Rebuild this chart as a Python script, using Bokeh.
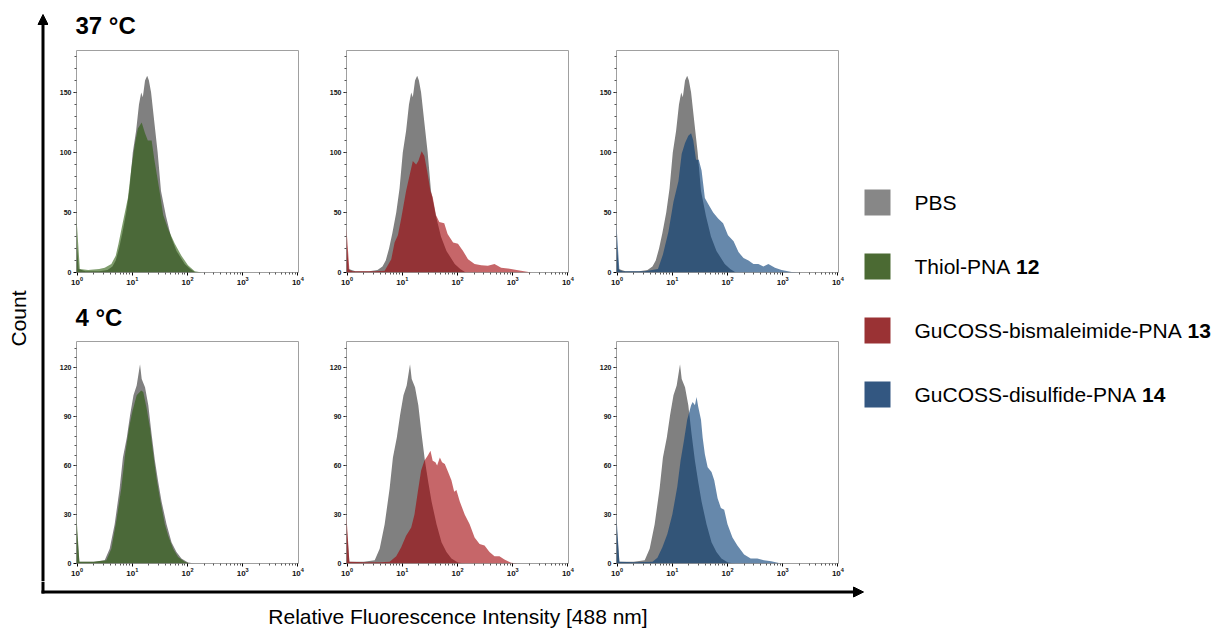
import math
from bokeh.plotting import figure
from bokeh.layouts import row, column
from bokeh.models import Range1d, FixedTicker, Arrow, NormalHead
from bokeh.core.properties import value
from bokeh.embed import file_html
from bokeh.resources import INLINE

FONT = "Liberation Sans"

# ---------------- data (fluorescence intensity, cell count) ----------------
pbs37_x = [0.97, 1.07, 1.41, 2.51, 3.55, 4.37, 5.01, 5.75, 6.61, 7.76, 8.91, 10.2, 11.7, 13.2, 14.5,
           15.5, 17.0, 18.6, 20.0, 21.9, 25.1, 28.8, 33.1, 40.7, 50.1, 63.1, 89.1, 112, 141]
pbs37_y = [30, 3, 1, 1, 2, 5, 10, 20, 33, 50, 70, 100, 118, 140, 150,
           146, 160, 164, 160, 150, 125, 100, 68, 47, 30, 18, 7, 3, 0]

thiol37_x = [0.97, 1.12, 1.58, 2.51, 3.16, 4.17, 5.01, 5.62, 6.61, 8.32, 9.55, 11.2, 12.6, 14.8, 17.0,
             19.1, 22.4, 25.1, 31.6, 36.3, 44.7, 58.9, 77.6, 102, 135, 182]
thiol37_y = [47, 3, 2, 3, 4, 7, 14, 24, 40, 62, 86, 108, 120, 125, 116,
             110, 110, 94, 66, 48, 36, 24, 14, 6, 1, 0]

bism37_x = [0.97, 1.1, 1.26, 3.16, 4.79, 6.31, 7.24, 8.32, 9.55, 11.7, 15.5, 17.8, 19.5, 22.4, 25.1,
            28.8, 32.4, 35.5, 40.7, 46.8, 57.5, 66.1, 83.2, 102, 126, 155, 204, 269, 355, 468,
            617, 933, 1410, 2190]
bism37_y = [38, 2, 1, 1, 1.5, 11, 25, 31, 45, 68, 93, 90, 93, 101, 97,
            82, 68, 63, 48, 42, 41, 32, 25, 24, 18, 11, 7, 6, 5.6, 7,
            4, 3, 1.4, 0]

disulf37_x = [0.97, 1.1, 1.26, 3.16, 5.50, 6.76, 8.51, 10.5, 12.9, 14.8, 17.0, 19.5, 21.9, 24.0, 26.9,
              30.2, 33.9, 38.9, 44.7, 55.0, 67.6, 83.2, 102, 129, 158, 195, 240, 295, 363, 447,
              550, 724, 955, 1450, 2090]
disulf37_y = [41, 2, 1, 1, 3, 15, 34, 59, 76, 99, 108, 114, 116, 110, 94,
              94, 85, 62, 57, 50, 45, 41, 31, 26, 17, 12, 10, 7, 7, 5,
              7, 4, 2, 0.5, 0]

pbs4_x = [0.97, 1.1, 2.0, 3.16, 3.89, 4.79, 5.89, 6.76, 7.94, 9.12, 10.5, 12.0, 13.2, 13.8, 14.8,
          17.0, 19.5, 22.4, 25.7, 29.5, 33.9, 41.7, 51.3, 63.1, 77.6, 102, 138]
pbs4_y = [25, 1, 1, 2, 9, 24, 46, 65, 77, 91, 103, 109, 118, 122, 113,
          108, 97, 79, 63, 50, 38, 24, 13, 7, 3, 0.6, 0]

thiol4_x = [0.97, 1.1, 2.0, 3.39, 4.17, 5.13, 6.31, 7.41, 8.71, 10.0, 12.0, 14.5, 15.8, 18.2, 20.9,
            24.0, 27.5, 31.6, 38.9, 44.7, 55.0, 67.6, 89.1, 110]
thiol4_y = [30, 1, 1, 2, 9, 26, 46, 67, 83, 93, 103, 106, 105, 95, 83,
            67, 52, 40, 24, 17, 9, 4, 1, 0]

bism4_x = [0.97, 1.1, 2.0, 3.98, 5.89, 7.76, 9.55, 11.7, 14.5, 16.6, 19.1, 21.9, 25.1, 28.8, 32.4,
           35.5, 39.8, 42.7, 47.9, 52.5, 58.9, 67.6, 77.6, 87.1, 95.5, 110, 135, 166, 204, 251,
           309, 380, 468, 575, 708, 933, 1230]
bism4_y = [30, 1, 0.8, 0.8, 1, 4.5, 10, 17, 22, 30, 44, 57, 63, 66, 69,
           63, 62, 60, 65, 62, 61, 56, 51, 44, 45, 38, 30, 24, 16, 12,
           11, 7, 4.5, 4.5, 2.5, 0.4, 0]

disulf4_x = [0.97, 1.1, 2.0, 4.37, 5.37, 6.61, 8.13, 10.0, 12.3, 14.1, 16.2, 18.6, 21.9, 23.4, 25.7,
             27.5, 29.5, 33.1, 35.5, 38.9, 43.7, 51.3, 57.5, 66.1, 75.9, 87.1, 100, 123, 151, 200,
             263, 347, 457, 617, 933]
disulf4_y = [30, 1, 0.8, 1, 3.5, 10, 18, 30, 47, 63, 75, 88, 97, 99, 97,
             102, 96, 88, 77, 67, 59, 56, 51, 40, 34, 33, 24, 16, 11, 5.5,
             3, 3, 2, 1.4, 0]

row_titles = ["37 °C", "4 °C"]
row_ymax = [185, 136]
row_major_ticks = [[0, 50, 100, 150], [0, 30, 60, 90, 120]]
row_minor_ticks = [list(range(10, 190, 10)), list(range(6, 138, 6))]
x_major_ticks = [1, 10, 100, 1000, 10000]

legend_names = ["PBS", "Thiol-PNA", "GuCOSS-bismaleimide-PNA", "GuCOSS-disulfide-PNA"]
legend_numbers = ["", "12", "13", "14"]
legend_colors = ["#878787", "#4b6a33", "#9a3234", "#335781"]

x_label = "Relative Fluorescence Intensity [488 nm]"
y_label = "Count"

# ---------------- styles / layout ----------------
GRAY = "#808080"
SERIES_COLORS = {"thiol": "#285a0a", "bism": "#a00005", "disulf": "#003973"}
ALPHA = 0.6

PAGE_W = 1211
LEFT_W = 48
PANEL_W = 270
TITLE_H = [40, 45]       # title strips above each panel row
ROW_H = [250, 246]       # panel figure heights
ROW_TOP = [10, 6]        # border above each frame
TITLE_Y = [24.5, 27]     # cap centre of the row title inside its strip
TOP_H = sum(TITLE_H) + sum(ROW_H)   # 581
BOTTOM_H = 629 - TOP_H              # 48


def style_axis(ax, size):
    ax.axis_line_color = None
    ax.major_tick_line_color = "black"
    ax.major_tick_out = 3
    ax.major_tick_in = 0
    ax.minor_tick_line_color = "#555555"
    ax.minor_tick_out = 2
    ax.minor_tick_in = 0
    ax.major_label_text_font = FONT
    ax.major_label_text_font_size = size
    ax.major_label_text_font_style = "bold"
    ax.major_label_text_color = "#111111"
    ax.major_label_standoff = 2


def panel(r, ctrl_x, ctrl_y, sx, sy, color):
    p = figure(width=PANEL_W, height=ROW_H[r], x_axis_type="log",
               x_range=Range1d(0.975, 10250), y_range=Range1d(0, row_ymax[r]),
               output_backend="svg", toolbar_location=None,
               min_border_left=28, min_border_right=20,
               min_border_top=ROW_TOP[r], min_border_bottom=18)
    p.xgrid.visible = False
    p.ygrid.visible = False
    p.outline_line_color = "#a0a0a0"
    p.outline_line_width = 1
    p.background_fill_color = "white"
    p.border_fill_color = "white"
    p.varea(x=ctrl_x, y1=0, y2=ctrl_y, fill_color=GRAY, fill_alpha=1.0)
    p.varea(x=sx, y1=0, y2=sy, fill_color=color, fill_alpha=ALPHA)
    minors = [m * 10 ** k for k in range(4) for m in range(2, 10)]
    p.xaxis.ticker = FixedTicker(ticks=x_major_ticks, minor_ticks=minors)
    p.yaxis.ticker = FixedTicker(ticks=row_major_ticks[r], minor_ticks=row_minor_ticks[r])
    style_axis(p.xaxis[0], "8px")
    style_axis(p.yaxis[0], "7px")
    p.xaxis[0].major_label_standoff = 1
    return p


def blank(w, h):
    f = figure(width=w, height=h, x_range=Range1d(0, w), y_range=Range1d(h, 0),
               x_axis_location=None, y_axis_location=None, min_border=0,
               output_backend="svg", toolbar_location=None)
    f.xgrid.visible = False
    f.ygrid.visible = False
    f.outline_line_color = None
    f.background_fill_color = "white"
    f.border_fill_color = "white"
    return f


def title_strip(r):
    t = blank(3 * PANEL_W, TITLE_H[r])
    t.text(x=[27], y=[TITLE_Y[r]], text=[row_titles[r]], text_font=value(FONT),
           text_font_size=value("24px"), text_font_style="bold",
           text_align="left", text_baseline="middle", text_color="black")
    return t


p11 = panel(0, pbs37_x, pbs37_y, thiol37_x, thiol37_y, SERIES_COLORS["thiol"])
p12 = panel(0, pbs37_x, pbs37_y, bism37_x, bism37_y, SERIES_COLORS["bism"])
p13 = panel(0, pbs37_x, pbs37_y, disulf37_x, disulf37_y, SERIES_COLORS["disulf"])
p21 = panel(1, pbs4_x, pbs4_y, thiol4_x, thiol4_y, SERIES_COLORS["thiol"])
p22 = panel(1, pbs4_x, pbs4_y, bism4_x, bism4_y, SERIES_COLORS["bism"])
p23 = panel(1, pbs4_x, pbs4_y, disulf4_x, disulf4_y, SERIES_COLORS["disulf"])

AX_X = 42.5

# left strip: vertical arrow + y label
lf = blank(LEFT_W, TOP_H)
lf.add_layout(Arrow(end=NormalHead(size=10, fill_color="black", line_color="black", line_width=1),
                    x_start=AX_X, y_start=TOP_H, x_end=AX_X, y_end=14,
                    line_width=3, line_color="black"))
lf.text(x=[18], y=[318], text=[y_label], angle=math.pi / 2,
        text_font=value(FONT), text_font_size=value("21px"),
        text_align="center", text_baseline="middle", text_color="black")

# legend
LEG_W = PAGE_W - LEFT_W - 3 * PANEL_W
lg = blank(LEG_W, TOP_H)
ARIAL = {"P": 667, "B": 667, "S": 667, "T": 611, "h": 556, "i": 222, "o": 556, "l": 222,
         "-": 333, "N": 722, "A": 667, "G": 778, "u": 556, "C": 722, "O": 778, "b": 556,
         "s": 500, "m": 833, "a": 556, "e": 556, "d": 556, "f": 278, " ": 278}
LEG_FS = 21
ys = [202 + 64 * i for i in range(len(legend_names))]
lg.rect(x=[19] * len(ys), y=ys, width=26, height=26, fill_color=legend_colors, line_color=None)
lg.text(x=[56] * len(ys), y=ys, text=legend_names,
        text_font=value(FONT), text_font_size=value(f"{LEG_FS}px"),
        text_align="left", text_baseline="middle", text_color="black")
num_x = [56 + (sum(ARIAL.get(c, 556) for c in n) + ARIAL[" "]) * LEG_FS / 1000 for n in legend_names]
lg.text(x=num_x, y=ys, text=legend_numbers,
        text_font=value(FONT), text_font_size=value(f"{LEG_FS}px"), text_font_style="bold",
        text_align="left", text_baseline="middle", text_color="black")

# bottom strip: horizontal arrow + x label
bf = blank(PAGE_W, BOTTOM_H)
bf.segment(x0=[AX_X], y0=[0], x1=[AX_X], y1=[12], line_width=3, line_color="black")
bf.add_layout(Arrow(end=NormalHead(size=10, fill_color="black", line_color="black", line_width=1),
                    x_start=41, y_start=10.5, x_end=863, y_end=10.5,
                    line_width=3, line_color="black"))
bf.text(x=[457.5], y=[35], text=[x_label], text_font=value(FONT), text_font_size=value("21px"),
        text_align="center", text_baseline="middle", text_color="black")

panels = column(title_strip(0), row(p11, p12, p13), title_strip(1), row(p21, p22, p23))
layout = column(row(lf, panels, lg), bf)

open("out.html", "w").write(file_html(layout, INLINE))
